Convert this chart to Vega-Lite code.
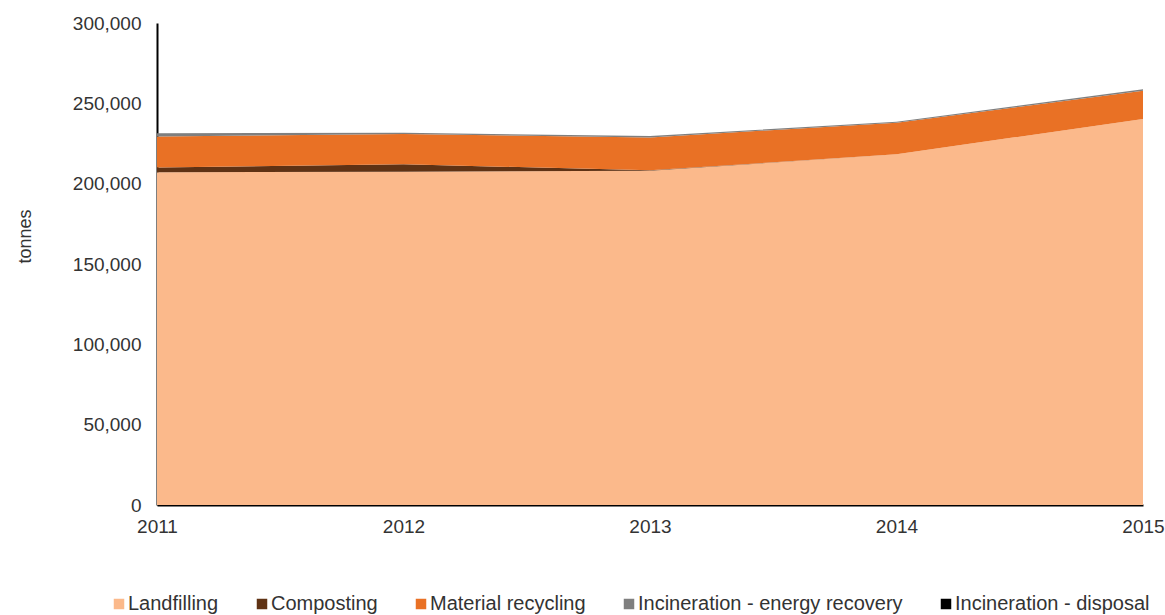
{
  "$schema": "https://vega.github.io/schema/vega-lite/v6.json",
  "width": 986,
  "height": 482,
  "autosize": {"type": "none"},
  "padding": {"left": 157, "top": 23, "right": 22, "bottom": 110},
  "background": "white",
  "config": {
    "view": {"stroke": null},
    "font": "Liberation Sans",
    "axis": {"grid": false, "ticks": false, "zindex": 1, "domainColor": "#000000", "domainWidth": 2, "labelColor": "#333333", "labelFontSize": 19, "titleColor": "#333333", "titleFontWeight": "normal", "titleFontSize": 18},
    "legend": {"labelColor": "#333333", "labelFontSize": 20}
  },
  "data": {
    "values": [
      {"year": 2011, "type": "Landfilling", "o": 1, "tonnes": 207100},
      {"year": 2012, "type": "Landfilling", "o": 1, "tonnes": 207450},
      {"year": 2013, "type": "Landfilling", "o": 1, "tonnes": 208000},
      {"year": 2014, "type": "Landfilling", "o": 1, "tonnes": 218300},
      {"year": 2015, "type": "Landfilling", "o": 1, "tonnes": 240300},
      {"year": 2011, "type": "Composting", "o": 2, "tonnes": 2900},
      {"year": 2012, "type": "Composting", "o": 2, "tonnes": 4600},
      {"year": 2013, "type": "Composting", "o": 2, "tonnes": 300},
      {"year": 2014, "type": "Composting", "o": 2, "tonnes": 0},
      {"year": 2015, "type": "Composting", "o": 2, "tonnes": 0},
      {"year": 2011, "type": "Material recycling", "o": 3, "tonnes": 19300},
      {"year": 2012, "type": "Material recycling", "o": 3, "tonnes": 18850},
      {"year": 2013, "type": "Material recycling", "o": 3, "tonnes": 20500},
      {"year": 2014, "type": "Material recycling", "o": 3, "tonnes": 19650},
      {"year": 2015, "type": "Material recycling", "o": 3, "tonnes": 17600},
      {"year": 2011, "type": "Incineration - energy recovery", "o": 4, "tonnes": 2100},
      {"year": 2012, "type": "Incineration - energy recovery", "o": 4, "tonnes": 800},
      {"year": 2013, "type": "Incineration - energy recovery", "o": 4, "tonnes": 800},
      {"year": 2014, "type": "Incineration - energy recovery", "o": 4, "tonnes": 600},
      {"year": 2015, "type": "Incineration - energy recovery", "o": 4, "tonnes": 900},
      {"year": 2011, "type": "Incineration - disposal", "o": 5, "tonnes": 0},
      {"year": 2012, "type": "Incineration - disposal", "o": 5, "tonnes": 0},
      {"year": 2013, "type": "Incineration - disposal", "o": 5, "tonnes": 0},
      {"year": 2014, "type": "Incineration - disposal", "o": 5, "tonnes": 0},
      {"year": 2015, "type": "Incineration - disposal", "o": 5, "tonnes": 0}
    ]
  },
  "mark": {"type": "area", "opacity": 1},
  "encoding": {
    "x": {
      "field": "year", "type": "quantitative",
      "scale": {"domain": [2011, 2015], "nice": false, "zero": false},
      "axis": {"values": [2011, 2012, 2013, 2014, 2015], "format": "d", "title": null, "labelPadding": 12, "labelFlush": false}
    },
    "y": {
      "field": "tonnes", "type": "quantitative", "stack": "zero",
      "scale": {"domain": [0, 300000], "nice": false},
      "axis": {"values": [0, 50000, 100000, 150000, 200000, 250000, 300000], "format": ",d", "title": "tonnes", "labelPadding": 16, "titlePadding": 38, "titleY": 213}
    },
    "color": {
      "field": "type", "type": "nominal",
      "scale": {
        "domain": ["Landfilling", "Composting", "Material recycling", "Incineration - energy recovery", "Incineration - disposal"],
        "range": ["#FBB98B", "#5F3214", "#E97125", "#7F7F7F", "#000000"]
      },
      "legend": {
        "title": null, "orient": "none", "direction": "horizontal",
        "legendX": -48, "legendY": 571,
        "symbolType": "square", "symbolSize": 110, "symbolStrokeWidth": 0,
        "labelOffset": -1, "columnPadding": 33, "labelLimit": 0
      }
    },
    "order": {"field": "o", "type": "quantitative"}
  }
}
